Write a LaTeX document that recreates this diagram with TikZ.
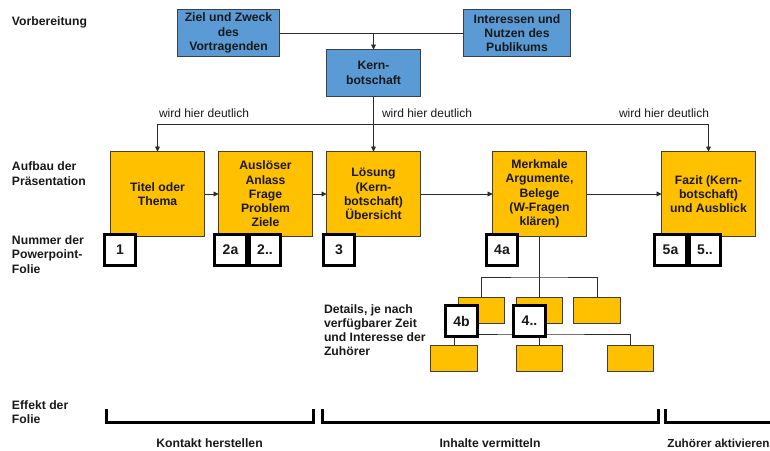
\documentclass[tikz,border=0pt]{standalone}
\usepackage{fontspec}
\setmainfont{Liberation Sans}
\usetikzlibrary{arrows.meta}
\definecolor{kernblau}{HTML}{5B9BD5}
\definecolor{gelb}{HTML}{FFC000}
\definecolor{rand}{HTML}{3F3F3F}
\definecolor{linie}{HTML}{2B2B2B}

\begin{document}
\begin{tikzpicture}[x=1pt,y=-1pt,
  every node/.style={inner sep=0pt, outer sep=0pt,
    font=\fontsize{12.2}{14.3}\selectfont\bfseries, text=black!90},
  bluebox/.style={draw=rand, fill=kernblau, line width=0.9pt, align=center},
  goldbox/.style={draw=rand, fill=gelb, line width=0.9pt, align=center,
    minimum width=94pt, minimum height=85pt},
  leafbox/.style={draw=rand, fill=gelb, line width=0.9pt,
    minimum width=46.5pt, minimum height=26.5pt},
  slidenum/.style={draw=black, fill=white, line width=2.6pt, minimum size=31.5pt,
    font=\fontsize{14}{16}\selectfont\bfseries},
  sidelabel/.style={anchor=base west, align=left},
  conn/.style={draw=linie, line width=0.9pt},
  arr/.style={conn, -{Triangle[length=5pt,width=5pt]}},
  bracket/.style={line width=3pt, line join=miter, line cap=butt},
  hint/.style={anchor=base west, font=\fontsize{12}{14}\selectfont}
]
\useasboundingbox (0,0) rectangle (770,450);

% --- row labels on the left (anchored at the baseline of the last line)
\node[sidelabel] (lvor) at (12,25) {Vorbereitung};
\node[sidelabel] (lauf) at (12,185) {Aufbau der\\Präsentation};
\node[sidelabel] (lnum) at (12,273) {Nummer der\\Powerpoint-\\Folie};
\node[sidelabel] (leff) at (12,423.5) {Effekt der\\Folie};

% --- preparation
\node[bluebox, minimum width=102pt, minimum height=47pt] (ziel) at (228.5,33)
  {Ziel und Zweck\\des\\Vortragenden};
\node[bluebox, minimum width=107pt, minimum height=47pt] (inter) at (517,33)
  {Interessen und\\Nutzen des\\Publikums};
\node[bluebox, minimum width=94pt, minimum height=47pt] (kern) at (373.5,73)
  {Kern-\\botschaft};

% --- structure of the presentation
\node[goldbox] (titel) at (157.5,194) {Titel oder\\Thema};
\node[goldbox] (anlass) at (265.5,194) {Auslöser\\Anlass\\Frage\\Problem\\Ziele};
\node[goldbox] (loes) at (373.5,194) {Lösung\\(Kern-\\botschaft)\\Übersicht};
\node[goldbox] (merk) at (539.5,194) {Merkmale\\Argumente,\\Belege\\(W-Fragen\\klären)};
\node[goldbox] (fazit) at (708.5,194) {Fazit (Kern-\\botschaft)\\und Ausblick};

% --- detail slides
\node[leafbox] (d1a) at (481.5,310.5) {};
\node[leafbox] (d1b) at (539.5,310.5) {};
\node[leafbox] (d1c) at (597,310.5) {};
\node[leafbox] (d2a) at (454,358.5) {};
\node[leafbox] (d2b) at (539.5,358.5) {};
\node[leafbox] (d2c) at (630.5,358.5) {};
\node[anchor=base west, align=left, font=\fontsize{12.2}{13.7}\selectfont\bfseries]
  (details) at (324,355) {Details, je nach\\verfügbarer Zeit\\und Interesse der\\Zuhörer};

% --- connectors
\draw[conn] (ziel.east) -- (inter.west);
\draw[arr] (ziel.east -| kern.north) -- (kern.north);
\coordinate (busL) at (157.5,124);
\coordinate (busR) at (708.5,124);
\draw[conn] (busL) -- (busR);
\draw[arr] (kern.south) -- (loes.north);
\draw[arr] (busL) -- (titel.north);
\draw[arr] (busR) -- (fazit.north);
\node[hint] (w1) at (159,117.5) {wird hier deutlich};
\node[hint] (w2) at (382,117.5) {wird hier deutlich};
\node[hint] (w3) at (619,117.5) {wird hier deutlich};

\draw[arr] (titel.east) -- (anlass.west);
\draw[arr] (anlass.east) -- (loes.west);
\draw[arr] (loes.east) -- (merk.west);
\draw[arr] (merk.east) -- (fazit.west);

\coordinate (t1) at (539.5,277);
\coordinate (t2) at (539.5,334);
\draw[conn] (merk.south) -- (t1);
\draw[conn] (d1a.north) |- (t1) -| (d1c.north);
\draw[conn] (t1) -- (d1b.north);
\draw[conn] (d1b.south) -- (t2);
\draw[conn] (d2a.north) |- (t2) -| (d2c.north);
\draw[conn] (t2) -- (d2b.north);

% --- slide numbers
\node[slidenum] (n1) at (120,250) {1};
\node[slidenum] (n2a) at (230.5,250) {2a};
\node[slidenum] (n2b) at (265,250) {2..};
\node[slidenum] (n3) at (339,250) {3};
\node[slidenum] (n4a) at (502,250) {4a};
\node[slidenum] (n5a) at (670.5,250) {5a};
\node[slidenum] (n5b) at (705,250) {5..};
\node[slidenum] (n4b) at (461.5,321) {4b};
\node[slidenum] (n4c) at (529.5,321) {4..};

% --- effect of the slides
\draw[bracket] (106,409) -- (106,422) -- (313,422) -- (313,409);
\draw[bracket] (322,409) -- (322,422) -- (658,422) -- (658,409);
\draw[bracket] (665,409) -- (665,422) -- (772,422);
\node (e1) at (209.5,443) {Kontakt herstellen};
\node (e2) at (490,443) {Inhalte vermitteln};
\node[anchor=base east, font=\fontsize{11.7}{14}\selectfont\bfseries]
  (e3) at (769.5,447) {Zuhörer aktivieren};
\end{tikzpicture}
\end{document}
